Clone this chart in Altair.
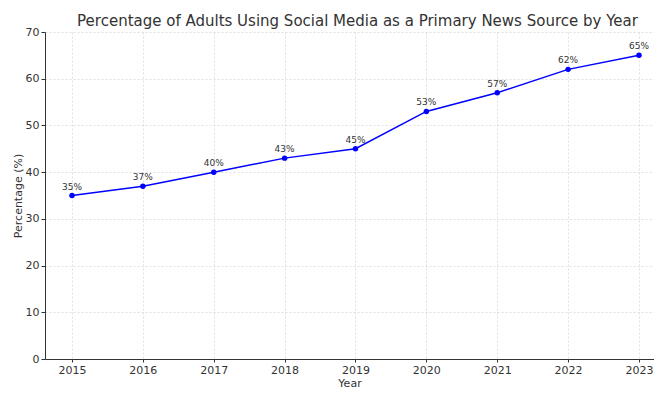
import altair as alt
import pandas as pd

years = [2015, 2016, 2017, 2018, 2019, 2020, 2021, 2022, 2023]
percent = [35, 37, 40, 43, 45, 53, 57, 62, 65]
labels = [f"{v}%" for v in percent]

df = pd.DataFrame({"Year": years, "Percentage": percent, "Label": labels})

FONT = "DejaVu Sans"
x = alt.X("Year:Q", title="Year",
          scale=alt.Scale(domain=[2014.619, 2023.212], nice=False, zero=False),
          axis=alt.Axis(values=years, format="d", labelFontSize=11, titleFontSize=11,
                        titlePadding=2, labelPadding=2, tickSize=3,
                        gridDash=[2, 2], gridColor="#cccccc", gridWidth=0.6))
y = alt.Y("Percentage:Q", title="Percentage (%)",
          scale=alt.Scale(domain=[0, 70], nice=False),
          axis=alt.Axis(values=[0, 10, 20, 30, 40, 50, 60, 70], labelFontSize=11,
                        titleFontSize=11, titlePadding=2, labelPadding=2, tickSize=4,
                        gridDash=[2, 2], gridColor="#cccccc", gridWidth=0.6))

base = alt.Chart(df).encode(x=x, y=y)
line = base.mark_line(color="#0000ff", strokeWidth=1.5)
pts = base.mark_point(filled=True, color="#0000ff", size=30, opacity=1)
txt = base.mark_text(dy=-9, fontSize=9, color="#333333", font=FONT).encode(text="Label:N")

chart = (line + pts + txt).properties(
    width=609, height=327,
    title=alt.TitleParams("Percentage of Adults Using Social Media as a Primary News Source by Year",
                          fontSize=15, font=FONT, fontWeight="normal", color="#333333",
                          anchor="middle", offset=-3, dx=8),
    autosize=alt.AutoSizeParams(type="none"),
    padding={"left": 37, "top": 24, "right": 0, "bottom": 31},
).configure_axis(
    labelFont=FONT, titleFont=FONT, labelColor="#333333", titleColor="#333333",
    domainColor="#333333", tickColor="#333333", titleFontWeight="normal"
).configure_view(stroke=None)

chart.save("out.html", embed_options={"renderer": "svg", "actions": False})
